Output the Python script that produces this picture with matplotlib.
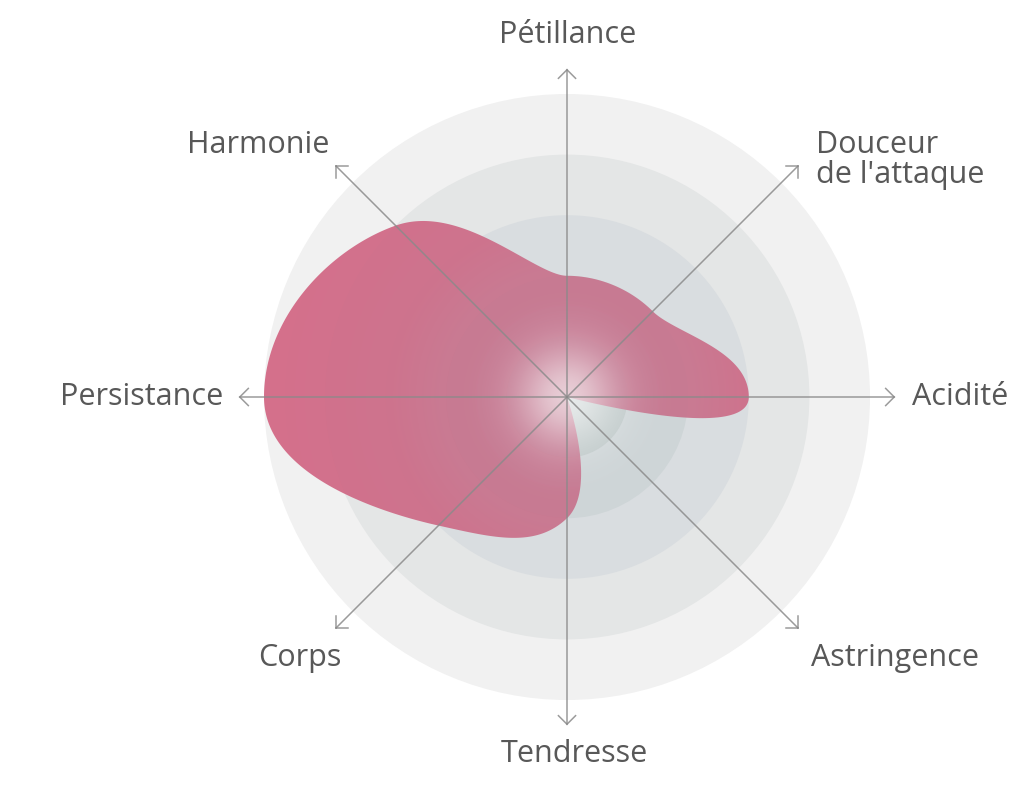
import numpy as np
import matplotlib
matplotlib.use('Agg')
import matplotlib.pyplot as plt
from matplotlib.path import Path
from matplotlib.patches import PathPatch, Circle

# ---------------- data ----------------
categories = ['Pétillance', "Douceur\nde l'attaque", 'Acidité', 'Astringence',
              'Tendresse', 'Corps', 'Persistance', 'Harmonie']
values = [2, 2, 3, 0, 2, 3, 5, 4]
levels = [1, 2, 3, 4, 5]
ring_colors = ['#bfc9c9', '#ced5d7', '#d9dde0', '#e4e6e6', '#f1f1f1']  # inner -> outer

# ---------------- layout ----------------
W, H = 1024, 789
cx, cy = 567, 397          # centre in pixels
S = 60.6                   # pixels per unit
axis_len = 5.4
text_color = '#585858'
font = ['Open Sans', 'DejaVu Sans']

fig = plt.figure(figsize=(W / 100, H / 100), dpi=100)
ax = fig.add_axes([0, 0, 1, 1])
ax.set_xlim(-cx / S, (W - cx) / S)
ax.set_ylim(-(H - cy) / S, cy / S)
ax.axis('off')

def px(xp, yp):
    return (xp - cx) / S, (cy - yp) / S

# rings
for lev, col in sorted(zip(levels, ring_colors), reverse=True):
    ax.add_patch(Circle((0, 0), lev, facecolor=col, edgecolor='none', zorder=1))

# ---------------- smooth closed curve ----------------
n = len(values)
v = np.array(values, float)
th = np.pi / 2 - np.arange(n) * 2 * np.pi / n
dth = -2 * np.pi / n

def sg(x):
    return -1.0 if x < 0 else 1.0

m = np.zeros(n)
for i in range(n):
    s0 = v[i] - v[i - 1]
    s1 = v[(i + 1) % n] - v[i]
    p = (s0 + s1) / 2
    m[i] = (sg(s0) + sg(s1)) * min(abs(s0), abs(s1), 0.5 * abs(p))

er = np.c_[np.cos(th), np.sin(th)]
et = np.c_[-np.sin(th), np.cos(th)]
P = v[:, None] * er
M = m[:, None] * er + (v * dth)[:, None] * et

t = np.linspace(0, 1, 80)[:, None]
h00 = 2 * t**3 - 3 * t**2 + 1
h10 = t**3 - 2 * t**2 + t
h01 = -2 * t**3 + 3 * t**2
h11 = t**3 - t**2
pts = []
for i in range(n):
    j = (i + 1) % n
    seg = h00 * P[i] + h10 * M[i] + h01 * P[j] + h11 * M[j]
    pts.append(seg[:-1])
pts = np.vstack(pts)
verts = np.vstack([pts, pts[:1]])
codes = [Path.MOVETO] + [Path.LINETO] * (len(pts) - 1) + [Path.CLOSEPOLY]
shape = PathPatch(Path(verts, codes), facecolor='none', edgecolor='none', zorder=3)
ax.add_patch(shape)

# radial gradient fill of the shape
ext = 5.6
N = 900
g = np.linspace(-ext, ext, N)
X, Y = np.meshgrid(g, g)
R = np.hypot(X, Y)
rr = np.array([0.0, 2.0, 3.0, 5.0, 6.0])
cr = np.array([196, 200, 205, 211, 211]) / 255
cg = np.array([118, 114, 106, 100, 100]) / 255
cb = np.array([144, 140, 134, 130, 130]) / 255
img = np.zeros((N, N, 4))
img[..., 0] = np.interp(R, rr, cr)
img[..., 1] = np.interp(R, rr, cg)
img[..., 2] = np.interp(R, rr, cb)
img[..., 3] = 0.92
im = ax.imshow(img, extent=(-ext, ext, -ext, ext), origin='lower', zorder=3,
               interpolation='bilinear')
im.set_clip_path(shape)

# white glow at the centre
glow = np.ones((N, N, 4))
glow[..., 3] = 0.62 * np.exp(-(R / 0.82) ** 2)
ax.imshow(glow, extent=(-ext, ext, -ext, ext), origin='lower', zorder=4,
          interpolation='bilinear')

# ---------------- axes with open arrowheads ----------------
arm = 0.2
for a in th:
    u = np.array([np.cos(a), np.sin(a)])
    tip = axis_len * u
    ax.plot([0, tip[0]], [0, tip[1]], color='#8a8a8a', lw=1.1, alpha=0.85,
            zorder=5, solid_capstyle='butt')
    for s in (1, -1):
        ang = a + np.pi + s * np.pi / 4
        end = tip + arm * np.array([np.cos(ang), np.sin(ang)])
        ax.plot([tip[0], end[0]], [tip[1], end[1]], color='#8a8a8a', lw=1.1,
                alpha=0.85, zorder=5)

# ---------------- labels ----------------
label_pos = [  # (x px, y px, ha, va)
    (568, 35, 'center', 'center'),
    (816, 160, 'left', 'center'),
    (912, 397, 'left', 'center'),
    (811, 658, 'left', 'center'),
    (574, 754, 'center', 'center'),
    (341, 658, 'right', 'center'),
    (223, 397, 'right', 'center'),
    (329, 145, 'right', 'center'),
]
for lab, (xp, yp, ha, va) in zip(categories, label_pos):
    x, y = px(xp, yp)
    ax.text(x, y, lab, ha=ha, va=va, fontsize=22, color=text_color,
            family=font, linespacing=1.0, multialignment='left', zorder=6)

fig.savefig('out.png', dpi=100)
